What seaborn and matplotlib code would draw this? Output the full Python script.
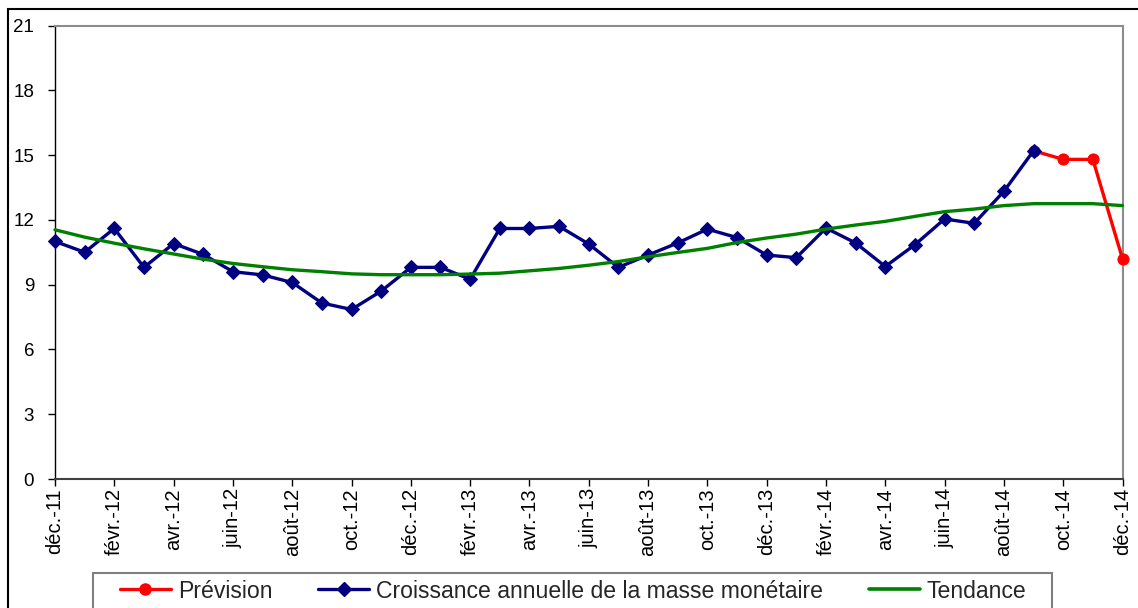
import numpy as np
import pandas as pd
import matplotlib
matplotlib.use("Agg")
import matplotlib.pyplot as plt
from matplotlib.lines import Line2D
from matplotlib.patches import Rectangle
import seaborn as sns

# ---- data ----
months = ["déc.-11", "janv.-12", "févr.-12", "mars-12", "avr.-12", "mai-12", "juin-12",
          "juil.-12", "août-12", "sept.-12", "oct.-12", "nov.-12", "déc.-12",
          "janv.-13", "févr.-13", "mars-13", "avr.-13", "mai-13", "juin-13",
          "juil.-13", "août-13", "sept.-13", "oct.-13", "nov.-13", "déc.-13",
          "janv.-14", "févr.-14", "mars-14", "avr.-14", "mai-14", "juin-14",
          "juil.-14", "août-14", "sept.-14", "oct.-14", "nov.-14", "déc.-14"]

croissance = [11.0, 10.5, 11.6, 9.8, 10.9, 10.4, 9.6, 9.45, 9.1, 8.15, 7.85, 8.7,
              9.8, 9.8, 9.25, 11.6, 11.6, 11.7, 10.88, 9.8, 10.37, 10.93, 11.57,
              11.18, 10.37, 10.25, 11.62, 10.93, 9.84, 10.85, 12.04, 11.84, 13.32, 15.2]

prevision = [15.2, 14.8, 14.8, 10.2]   # sept.-14 .. déc.-14

tendance = [11.54, 11.2, 10.92, 10.66, 10.42, 10.18, 9.98, 9.83, 9.69, 9.6, 9.5,
            9.46, 9.46, 9.46, 9.49, 9.53, 9.64, 9.75, 9.9, 10.07, 10.29, 10.49,
            10.68, 10.95, 11.16, 11.34, 11.57, 11.76, 11.93, 12.16, 12.38, 12.5,
            12.66, 12.75, 12.75, 12.75, 12.66]

yticks = [0, 3, 6, 9, 12, 15, 18, 21]

# ---- style ----
sns.set_style("ticks")
plt.rcParams["font.family"] = ["Liberation Sans", "DejaVu Sans"]

W, H = 1138, 608
fig = plt.figure(figsize=(W / 100, H / 100), dpi=100)
fig.patch.set_facecolor("white")

L, R, T, B = 55, 1122.5, 25.5, 479
ax = fig.add_axes([L / W, 1 - B / H, (R - L) / W, (B - T) / H])

x_all = np.arange(len(months))
df_c = pd.DataFrame({"x": x_all[:len(croissance)], "y": croissance})
df_p = pd.DataFrame({"x": x_all[len(croissance) - 1:], "y": prevision})
df_t = pd.DataFrame({"x": x_all, "y": tendance})

RED, NAVY, GREEN = "#FF0000", "#000080", "#008000"

sns.lineplot(data=df_p, x="x", y="y", ax=ax, color=RED, lw=2.4, marker="o",
             markersize=8, markeredgecolor=RED, clip_on=False, zorder=3)
sns.lineplot(data=df_c, x="x", y="y", ax=ax, color=NAVY, lw=2.4, marker="D",
             markersize=6.8, markeredgecolor=NAVY, clip_on=False, zorder=4)
sns.lineplot(data=df_t, x="x", y="y", ax=ax, color=GREEN, lw=2.4,
             clip_on=False, zorder=5)

ax.set_xlim(0, len(months) - 1)
ax.set_ylim(0, 21)
ax.set_xlabel("")
ax.set_ylabel("")

ax.set_yticks(yticks)
ax.set_yticklabels([str(v) for v in yticks])
ax.set_xticks(x_all[::2])
ax.set_xticklabels(months[::2], rotation=90)

ax.tick_params(axis="y", direction="out", length=5, width=1, pad=10,
               labelsize=13.5, colors="black")
ax.tick_params(axis="x", direction="out", length=5, width=1, pad=1.5,
               labelsize=14.5, colors="black")

for side in ["top", "right"]:
    ax.spines[side].set_visible(True)
    ax.spines[side].set_color("#8c8c8c")
    ax.spines[side].set_linewidth(1.5)
ax.spines["left"].set_color("black")
ax.spines["left"].set_linewidth(1.0)
ax.spines["bottom"].set_color("#404040")
ax.spines["bottom"].set_linewidth(1.5)
ax.grid(False)

# outer chart frame
fig.patches.append(Rectangle((8 / W, -0.1), (W + 20) / W, 1 - 9 / H + 0.1,
                             transform=fig.transFigure, fill=False,
                             edgecolor="black", lw=1.5, zorder=0))

# legend box
fig.patches.append(Rectangle((93 / W, -0.1), (1052 - 93) / W, 1 - 573 / H + 0.1,
                             transform=fig.transFigure, fill=False,
                             edgecolor="#808080", lw=1.5, zorder=1))

handles = [
    Line2D([], [], color=RED, lw=2.4, marker="o", markersize=8),
    Line2D([], [], color=NAVY, lw=2.4, marker="D", markersize=6.8),
    Line2D([], [], color=GREEN, lw=2.6),
]
labels = ["Prévision", "Croissance annuelle de la masse monétaire", "Tendance"]
fig.legend(handles, labels, loc="center left",
           bbox_to_anchor=(120 / W, 1 - 591 / H), ncol=3, frameon=False,
           fontsize=16.6, handlelength=2.2, handletextpad=0.3,
           columnspacing=2.0, borderpad=0, borderaxespad=0, numpoints=1)

fig.savefig("out.png", dpi=100, facecolor="white")
